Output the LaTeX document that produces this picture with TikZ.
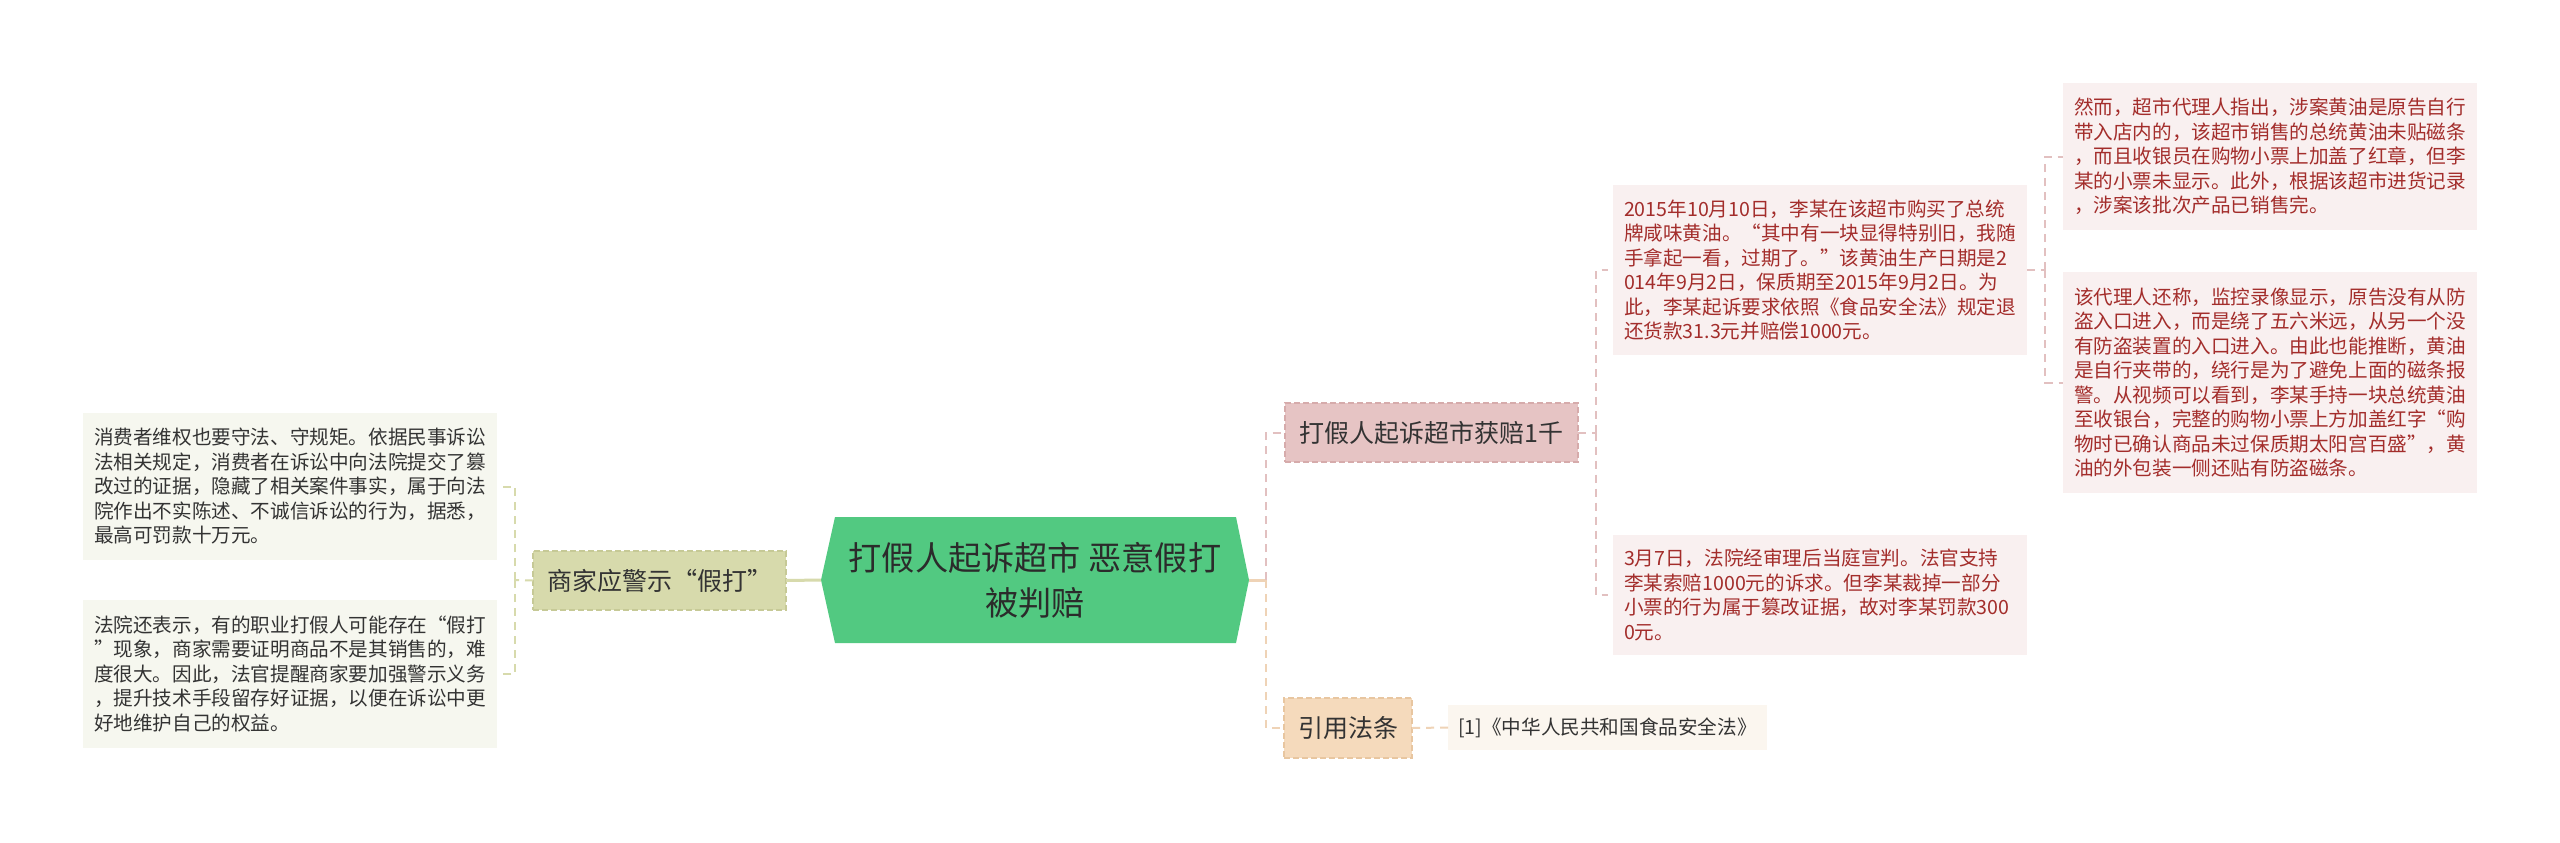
\documentclass[tikz,border=0pt]{standalone}
\usepackage{fontspec}
\setmainfont{Noto Sans CJK SC}
\usepackage{tikz}
\usepackage{xcolor}
\definecolor{hubgreen}{HTML}{52C981}
\definecolor{hubtext}{HTML}{2B2B2B}
\definecolor{warnfill}{HTML}{D7DAAC}
\definecolor{warnedge}{HTML}{C6C996}
\definecolor{warnleaf}{HTML}{F6F7EF}
\definecolor{wintint}{HTML}{E6C4C4}
\definecolor{winedge}{HTML}{D6ABAB}
\definecolor{redleaf}{HTML}{F9F0F0}
\definecolor{redtext}{HTML}{A32D2B}
\definecolor{redline}{HTML}{E2C0C0}
\definecolor{lawfill}{HTML}{F5DABC}
\definecolor{lawedge}{HTML}{E8C6A0}
\definecolor{lawleaf}{HTML}{FBF6EF}
\definecolor{peachline}{HTML}{EFD3B6}
\definecolor{darktext}{HTML}{333333}

\begin{document}
\begin{tikzpicture}[x=0.5pt, y=-0.5pt,
  every node/.style={inner sep=0pt, outer sep=0pt},
  leaf/.style={text width=196pt, minimum width=207pt, align=left,
    font=\fontsize{9.8pt}{12.25pt}\selectfont},
  midbox/.style={minimum height=29.5pt, align=center, text=darktext,
    dash pattern=on 3pt off 1.5pt, line width=0.6pt,
    font=\fontsize{12.5pt}{15pt}\selectfont},
  link/.style={line width=1pt, dash pattern=on 4pt off 3pt}]
\useasboundingbox (0,0) rectangle (2560,842);
\fill[white] (0,0) rectangle (2560,842);

% === Hub ===
\fill[hubgreen] (821,580) -- (835,517) -- (1236,517) -- (1249,580)
  -- (1236,643) -- (835,643) -- cycle;
\node (hub) at (1035,580) [minimum width=214pt, minimum height=63pt,
  align=center, text=hubtext, font=\fontsize{16.6pt}{22.5pt}\selectfont]
  {打假人起诉超市 恶意假打\\被判赔};

% === Left branch: merchant warning ===
\node (warn) at (659.5,580.5) [midbox, fill=warnfill, draw=warnedge,
  minimum width=126.5pt] {商家应警示“假打”};
\node (lwarn1) at (290,486.5) [leaf, fill=warnleaf, text=darktext,
  minimum height=73.5pt]
  {消费者维权也要守法、守规矩。依据民事诉讼\\
   法相关规定，消费者在诉讼中向法院提交了篡\\
   改过的证据，隐藏了相关案件事实，属于向法\\
   院作出不实陈述、不诚信诉讼的行为，据悉，\\
   最高可罚款十万元。};
\node (lwarn2) at (290,674) [leaf, fill=warnleaf, text=darktext,
  minimum height=74pt]
  {法院还表示，有的职业打假人可能存在“假打\\
   ”现象，商家需要证明商品不是其销售的，难\\
   度很大。因此，法官提醒商家要加强警示义务\\
   ，提升技术手段留存好证据，以便在诉讼中更\\
   好地维护自己的权益。};

% Connectors
\draw[warnfill, line width=1.5pt] (hub.west) -- (warn.east);
\coordinate (lfork) at (515,580);
\draw[link, warnfill] (warn.west) -- (lfork);
\foreach \n in {lwarn1,lwarn2}
  \draw[link, warnfill] (lfork) |- ([xshift=3pt]\n.east);

% === Right branch: case and verdict ===
\node (win) at (1431.5,432.5) [midbox, fill=wintint, draw=winedge,
  minimum width=146.5pt] {打假人起诉超市获赔1千};
\node (buy) at (1820,270) [leaf, fill=redleaf, text=redtext,
  minimum height=85pt]
  {2015年10月10日，李某在该超市购买了总统\\
   牌咸味黄油。“其中有一块显得特别旧，我随\\
   手拿起一看，过期了。”该黄油生产日期是2\\
   014年9月2日，保质期至2015年9月2日。为\\
   此，李某起诉要求依照《食品安全法》规定退\\
   还货款31.3元并赔偿1000元。};
\node (verdict) at (1820,595) [leaf, fill=redleaf, text=redtext,
  minimum height=60pt]
  {3月7日，法院经审理后当庭宣判。法官支持\\
   李某索赔1000元的诉求。但李某裁掉一部分\\
   小票的行为属于篡改证据，故对李某罚款300\\
   0元。};
\node (agent1) at (2270,156.5) [leaf, fill=redleaf, text=redtext,
  minimum height=73.5pt]
  {然而，超市代理人指出，涉案黄油是原告自行\\
   带入店内的，该超市销售的总统黄油未贴磁条\\
   ，而且收银员在购物小票上加盖了红章，但李\\
   某的小票未显示。此外，根据该超市进货记录\\
   ，涉案该批次产品已销售完。};
\node (agent2) at (2270,382.5) [leaf, fill=redleaf, text=redtext,
  minimum height=110.5pt]
  {该代理人还称，监控录像显示，原告没有从防\\
   盗入口进入，而是绕了五六米远，从另一个没\\
   有防盗装置的入口进入。由此也能推断，黄油\\
   是自行夹带的，绕行是为了避免上面的磁条报\\
   警。从视频可以看到，李某手持一块总统黄油\\
   至收银台，完整的购物小票上方加盖红字“购\\
   物时已确认商品未过保质期太阳宫百盛”，黄\\
   油的外包装一侧还贴有防盗磁条。};

% === Right branch: cited law ===
\node (law) at (1348,728) [midbox, fill=lawfill, draw=lawedge,
  minimum width=64pt, minimum height=30pt] {引用法条};
\node (lawref) at (1607.5,727.5) [fill=lawleaf, text=darktext,
  minimum width=159.5pt, minimum height=22.5pt,
  font=\fontsize{9.8pt}{12.25pt}\selectfont] {[1]《中华人民共和国食品安全法》};

% Connectors
\coordinate (rfork) at (1266,580);
\draw[peachline, line width=1.5pt] (hub.east) -- (rfork);
\draw[link, redline] (rfork) |- (win.west);
\draw[link, peachline] (rfork) |- (law.west);
\draw[link, peachline] (law.east) -- (lawref.west);
\coordinate (wfork) at (1596,432.5);
\draw[link, redline] (win.east) -- (wfork);
\foreach \n in {buy,verdict}
  \draw[link, redline] (wfork) |- ([xshift=-2.5pt]\n.west);
\coordinate (bfork) at (2045,270);
\draw[link, redline] (buy.east) -- (bfork);
\foreach \n in {agent1,agent2}
  \draw[link, redline] (bfork) |- (\n.west);
\end{tikzpicture}
\end{document}
